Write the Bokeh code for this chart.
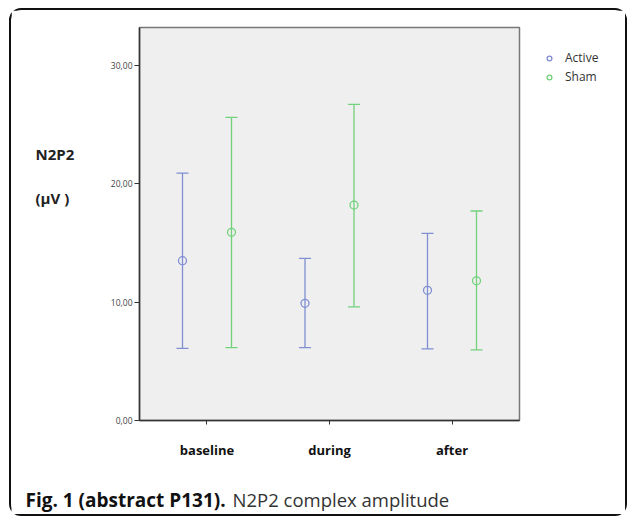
from bokeh.plotting import figure
from bokeh.models import (ColumnDataSource, Whisker, TeeHead, Legend, LegendItem,
                          FactorRange, FixedTicker, Range1d)
from bokeh.layouts import row, column
from bokeh.transform import dodge
from bokeh.embed import file_html
from bokeh.resources import INLINE
from bokeh.core.properties import value

categories = ["baseline", "during", "after"]
active_mean = [13.5, 9.9, 11.0]
active_upper = [20.9, 13.7, 15.8]
active_lower = [6.1, 6.15, 6.05]
sham_mean = [15.9, 18.2, 11.8]
sham_upper = [25.6, 26.7, 17.7]
sham_lower = [6.15, 9.6, 5.97]
series_names = ["Active", "Sham"]
y_ticks = [0, 10, 20, 30]
y_tick_labels = ["0,00", "10,00", "20,00", "30,00"]
y_label_lines = ["N2P2", "(µV )"]
caption_bold = "Fig. 1 (abstract P131)."
caption_rest = "N2P2 complex amplitude"

BLUE = "#7f8fd2"
GREEN = "#72d27c"
FONT = "Open Sans"

src_a = ColumnDataSource(dict(cat=categories, mean=active_mean, upper=active_upper, lower=active_lower))
src_s = ColumnDataSource(dict(cat=categories, mean=sham_mean, upper=sham_upper, lower=sham_lower))

TOP, BOTTOM = 17, 42
MAIN_H = 452
FRAME_H = MAIN_H - TOP - BOTTOM
LEFT_W = 80
MAIN_W = 430
LEG_W = 104
CAP_H = 52


def blank(w, h, y_span, **kw):
    f = figure(width=w, height=h, output_backend="svg", toolbar_location=None,
               x_range=Range1d(0, w), y_range=Range1d(y_span, 0),
               x_axis_location=None, y_axis_location=None, **kw)
    f.grid.visible = False
    f.outline_line_color = None
    f.background_fill_color = "white"
    f.border_fill_color = "white"
    return f


p = figure(width=MAIN_W, height=MAIN_H, output_backend="svg", toolbar_location=None,
           x_range=FactorRange(*categories, range_padding=0.034), y_range=(0, 33.2),
           min_border_left=48, min_border_right=2, min_border_top=TOP, min_border_bottom=BOTTOM)
p.background_fill_color = "#efefef"
p.border_fill_color = "white"
p.outline_line_color = "#777777"
p.outline_line_width = 1.5
p.grid.visible = False

p.yaxis.ticker = FixedTicker(ticks=y_ticks)
p.yaxis.major_label_overrides = {t: l for t, l in zip(y_ticks, y_tick_labels)}
p.yaxis.major_label_text_font = FONT
p.yaxis.major_label_text_font_size = "8.5px"
p.yaxis.major_label_text_color = "#444444"
p.yaxis.axis_line_color = "#333333"
p.yaxis.axis_line_width = 1.5
p.yaxis.major_tick_line_color = "#333333"
p.yaxis.major_tick_out = 5
p.yaxis.major_tick_in = 0
p.yaxis.minor_tick_line_color = None
p.yaxis.major_label_standoff = 2

p.xaxis.major_label_text_font = FONT
p.xaxis.major_label_text_font_style = "bold"
p.xaxis.major_label_text_font_size = "13px"
p.xaxis.major_label_text_color = "#111111"
p.xaxis.axis_line_color = "#333333"
p.xaxis.axis_line_width = 1.5
p.xaxis.major_tick_line_color = "#333333"
p.xaxis.major_tick_out = 4
p.xaxis.major_tick_in = 0
p.xaxis.major_label_standoff = 16

for src, off, col in [(src_a, -0.2, BLUE), (src_s, 0.2, GREEN)]:
    w = Whisker(source=src, base=dodge("cat", off, range=p.x_range), upper="upper", lower="lower",
                line_color=col, line_width=1.3,
                upper_head=TeeHead(size=12, line_color=col, line_width=1.3),
                lower_head=TeeHead(size=12, line_color=col, line_width=1.3))
    p.add_layout(w)

for src, off, col in [(src_a, -0.2, BLUE), (src_s, 0.2, GREEN)]:
    p.scatter(x=dodge("cat", off, range=p.x_range), y="mean", source=src, size=8,
              marker="circle", fill_color=None, line_color=col, line_width=1.3)

# legend strip (outside the plot frame, as in the reference); the swatch renderers
# hold one point placed outside the strip's visible range so only the legend shows it
lg = blank(LEG_W, MAIN_H, FRAME_H, min_border_left=0, min_border_right=0,
           min_border_top=TOP, min_border_bottom=BOTTOM)
items = []
for name, col in zip(series_names, [BLUE, GREEN]):
    r = lg.scatter(x=[-1000], y=[-1000], size=8, marker="circle", fill_color=None,
                   line_color=col, line_width=1.3)
    items.append(LegendItem(label=name, renderers=[r]))
legend = Legend(items=items, location="top_left", border_line_color=None,
                background_fill_alpha=0, label_text_font=FONT, label_text_font_size="12px",
                label_text_color="#333333", glyph_width=12, glyph_height=14, label_height=14,
                spacing=2, padding=0, margin=22, label_standoff=10)
lg.add_layout(legend)

# left strip with the horizontal y-axis title
yl = blank(LEFT_W, MAIN_H, FRAME_H, min_border_left=0, min_border_right=0,
           min_border_top=TOP, min_border_bottom=BOTTOM)
yl.text(x=[24, 24], y=[126, 170], text=y_label_lines, text_font=value(FONT),
        text_font_style="bold", text_font_size="15px", text_color="#222222",
        text_baseline="middle", text_align="left")

# caption strip
cap = blank(LEFT_W + MAIN_W + LEG_W, CAP_H, CAP_H, min_border=0)
cap.text(x=[14], y=[37], text=[caption_bold], text_font=value(FONT), text_font_style="bold",
         text_font_size="19px", text_color="#111111", text_baseline="middle")
cap.text(x=[221], y=[37], text=[caption_rest], text_font=value(FONT), text_font_style="normal",
         text_font_size="18.5px", text_color="#333333", text_baseline="middle")

layout = column(row(yl, p, lg), cap)
layout.styles = {"border": "2px solid #111", "border-radius": "12px", "margin": "8px 0 0 9px",
                 "background": "white"}

open("out.html", "w").write(file_html(layout, INLINE))
